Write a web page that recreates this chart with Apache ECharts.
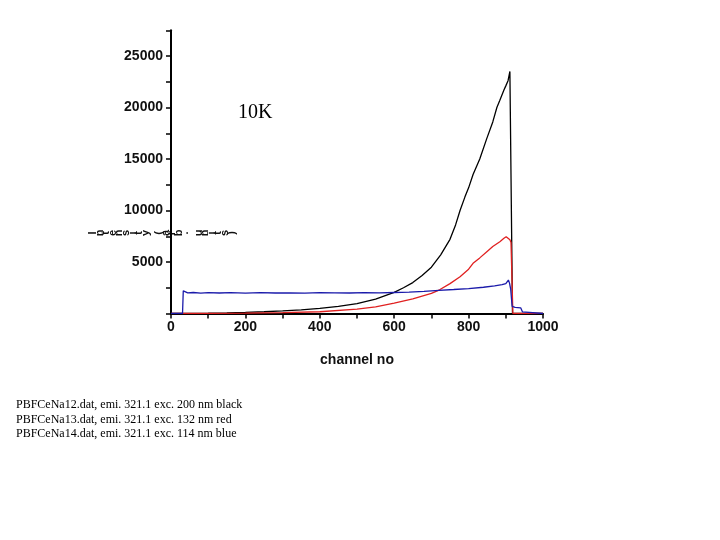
<!DOCTYPE html>
<html>
<head>
<meta charset="utf-8">
<script src="https://cdn.jsdelivr.net/npm/echarts@6/dist/echarts.min.js"></script>
<style>
  html, body { margin: 0; padding: 0; background: #fff; }
</style>
</head>
<body>
<div id="MyChart" style="width:720px;height:540px;"></div>
<script>
// 10K emission decay curves
var blackChannel = [0, 35, 100, 150, 200, 250, 300, 350, 400, 450, 500, 550, 600, 625, 650, 675, 700, 725, 750, 765, 777, 790, 800, 812, 830, 849, 865, 876, 884, 895, 900, 903, 906, 911, 918, 1000];
var blackValue   = [0, 0, 30, 60, 100, 170, 250, 360, 500, 700, 950, 1400, 2050, 2500, 3000, 3700, 4500, 5700, 7200, 8600, 10000, 11300, 12200, 13500, 15000, 17000, 18600, 20000, 20700, 21700, 22100, 22200, 22600, 23500, 0, 0];

var redChannel = [0, 35, 100, 200, 300, 400, 500, 550, 600, 650, 700, 722, 750, 777, 800, 812, 830, 849, 865, 884, 895, 901, 906, 911, 914, 919, 1000];
var redValue   = [0, 0, 10, 40, 80, 170, 420, 650, 1000, 1420, 1950, 2300, 2900, 3570, 4300, 4870, 5400, 6000, 6500, 6970, 7300, 7450, 7350, 7150, 6900, 0, 0];

var blueChannel = [0, 31, 33, 38, 45, 60, 80, 100, 130, 160, 200, 240, 280, 320, 360, 400, 440, 480, 520, 560, 600, 640, 680, 720, 760, 800, 840, 870, 890, 900, 907, 910, 913, 917, 925, 940, 945, 950, 1000];
var blueValue   = [0, 0, 2200, 2150, 2000, 2040, 1980, 2020, 1990, 2030, 1980, 2020, 1990, 2010, 1980, 2020, 2000, 1990, 2030, 2000, 2040, 2080, 2150, 2250, 2330, 2420, 2550, 2680, 2800, 2900, 3250, 2950, 2400, 700, 600, 550, 150, 0, 0];

var yTicks = [0, 5000, 10000, 15000, 20000, 25000];
var xTicks = [0, 200, 400, 600, 800, 1000];

var noteLines = [
  'PBFCeNa12.dat, emi. 321.1 exc. 200 nm black',
  'PBFCeNa13.dat, emi. 321.1 exc. 132 nm red',
  'PBFCeNa14.dat, emi. 321.1 exc. 114 nm blue'
];
var yName = 'Intensity (arb. units)';

function pairs(xs, ys) {
  var out = [];
  for (var i = 0; i < xs.length; i++) {
    out.push([xs[i], ys[i]]);
  }
  return out;
}

var myChart = echarts.init(document.getElementById('MyChart'));

// y axis name: characters laid side by side, each one turned
var graphics = [];
for (var i = 0; i < yName.length; i++) {
  graphics.push({
    type: 'text',
    x: 93 + i * 6.6,
    y: 233,
    rotation: Math.PI / 2,
    style: {
      text: yName[i],
      fill: '#111',
      font: 'bold 11px "Liberation Sans", Arial, sans-serif',
      align: 'center',
      verticalAlign: 'middle'
    }
  });
}
graphics.push({
  type: 'text',
  left: 238,
  top: 103,
  style: {
    text: '10K',
    fill: '#000',
    font: '20px "Liberation Serif", "Times New Roman", serif'
  }
});
for (var j = 0; j < noteLines.length; j++) {
  graphics.push({
    type: 'text',
    left: 16,
    top: 399 + j * 14.5,
    style: {
      text: noteLines[j],
      fill: '#000',
      font: '12px "Liberation Serif", "Times New Roman", serif'
    }
  });
}

var axisFont = {
  color: '#111',
  fontSize: 14,
  fontWeight: 'bold',
  fontFamily: '"Liberation Sans", Arial, sans-serif'
};

var option = {
  animation: false,
  backgroundColor: '#fff',
  grid: {
    left: 171,
    right: 177,
    top: 30.25,
    bottom: 226.5
  },
  xAxis: {
    type: 'value',
    min: 0,
    max: 1000,
    interval: 100,
    name: 'channel no',
    nameLocation: 'middle',
    nameGap: 40,
    nameTextStyle: axisFont,
    axisLine: { lineStyle: { color: '#000', width: 2 } },
    axisTick: { inside: false, length: 5, lineStyle: { color: '#000', width: 1.5 } },
    axisLabel: Object.assign({
      margin: 7,
      formatter: function (v) { return xTicks.indexOf(v) >= 0 ? String(v) : ''; }
    }, axisFont),
    splitLine: { show: false }
  },
  yAxis: {
    type: 'value',
    min: 0,
    max: 27500,
    interval: 2500,
    axisLine: { show: true, lineStyle: { color: '#000', width: 2 } },
    axisTick: { show: true, inside: false, length: 5, lineStyle: { color: '#000', width: 1.5 } },
    axisLabel: Object.assign({
      margin: 8,
      formatter: function (v) { return yTicks.indexOf(v) >= 0 && v > 0 ? String(v) : ''; }
    }, axisFont),
    splitLine: { show: false }
  },
  graphic: graphics,
  series: [
    {
      name: 'black',
      type: 'line',
      data: pairs(blackChannel, blackValue),
      showSymbol: false,
      lineStyle: { color: '#000', width: 1.3 },
      z: 3
    },
    {
      name: 'red',
      type: 'line',
      data: pairs(redChannel, redValue),
      showSymbol: false,
      lineStyle: { color: '#e02020', width: 1.3 },
      z: 4
    },
    {
      name: 'blue',
      type: 'line',
      data: pairs(blueChannel, blueValue),
      showSymbol: false,
      lineStyle: { color: '#1a1aaa', width: 1.3 },
      z: 5
    }
  ]
};
myChart.setOption(option);
</script>
</body>
</html>
